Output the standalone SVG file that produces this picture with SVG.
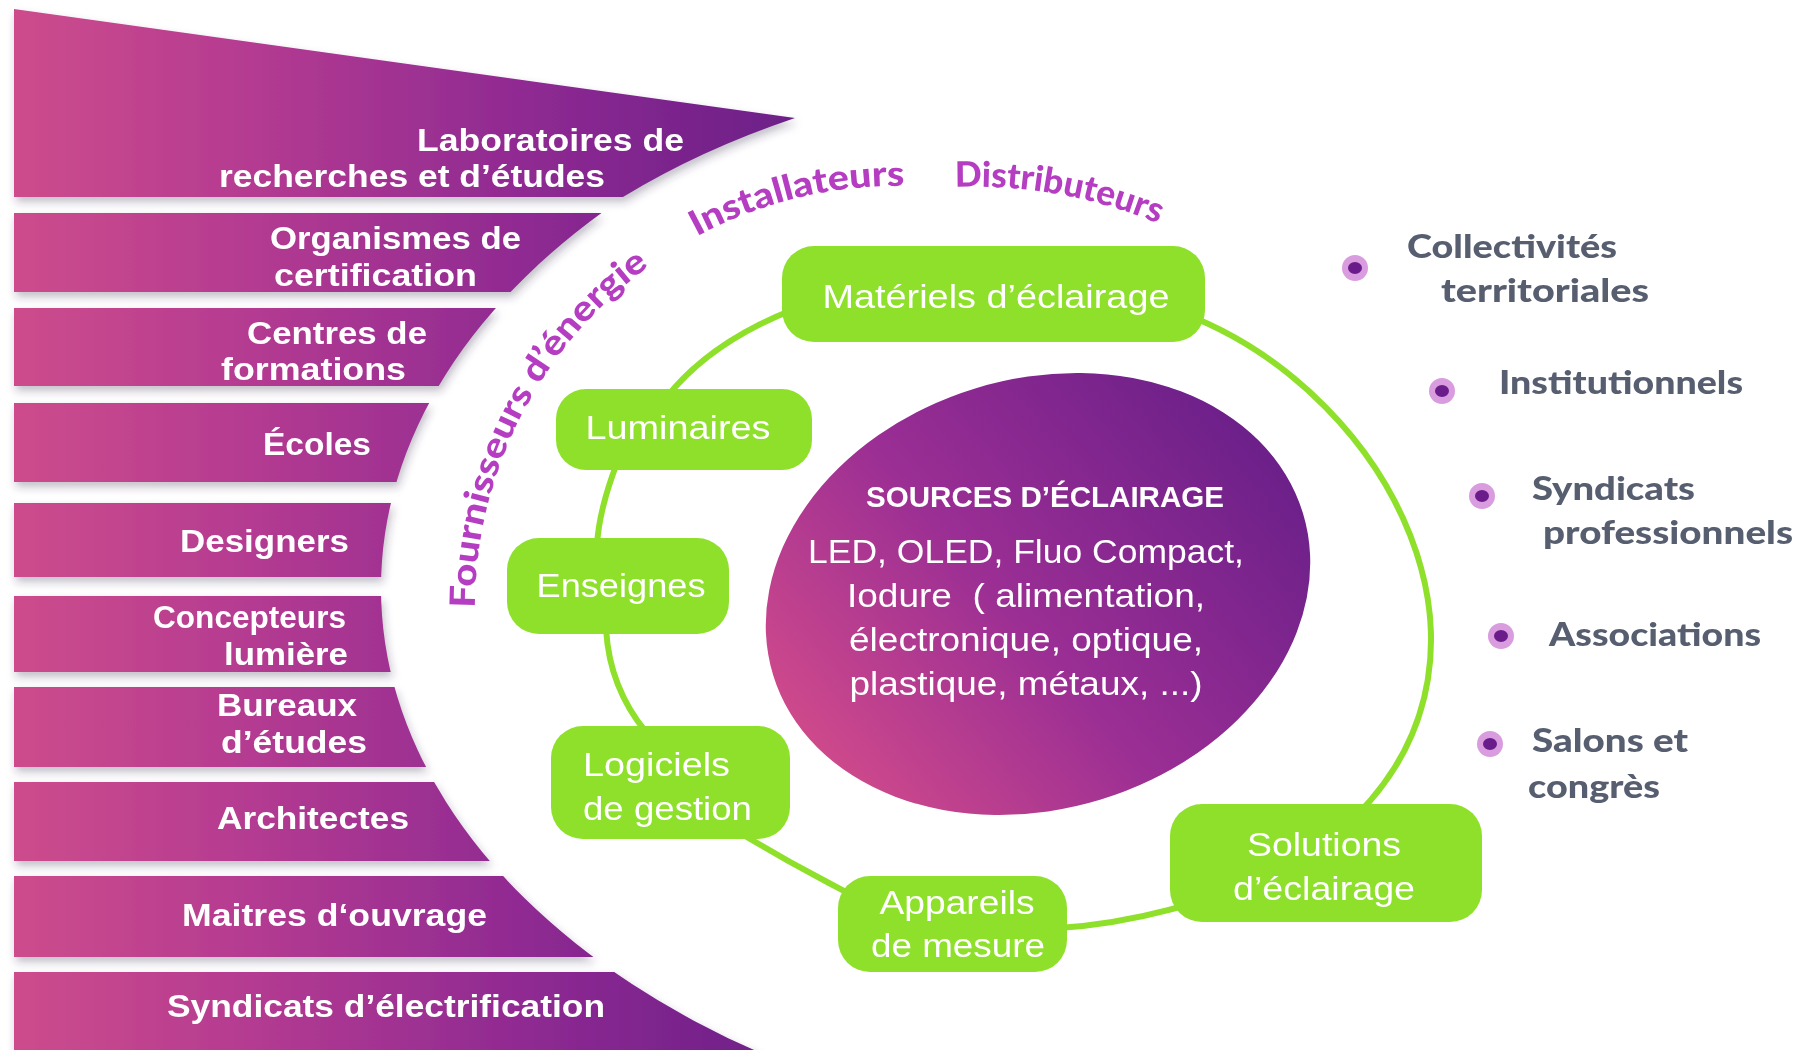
<svg xmlns="http://www.w3.org/2000/svg" width="1808" height="1050" viewBox="0 0 1808 1050">
<style>
.band{fill:url(#bandGrad)}
.bt{font-family:"Liberation Sans",Arial,sans-serif;font-weight:700;font-size:32px;fill:#fff;text-anchor:end}
.box{fill:#8FE02B}
.bx{font-family:"Liberation Sans",Arial,sans-serif;font-size:33px;fill:#fff}
.mid{text-anchor:middle}
.arct{font-family:Lato,"Noto Sans",sans-serif;font-weight:900;font-size:35px;fill:#B53DC1}
.link{fill:none;stroke:#8FE02B;stroke-width:6}
.rt{font-family:Lato,"Noto Sans",sans-serif;font-weight:900;font-size:33px;fill:#565E70}
.dot-o{fill:#D99CDF}
.dot-i{fill:#6A1C8B}
.srch{font-family:"Liberation Sans",Arial,sans-serif;font-weight:700;font-size:29px;fill:#fff;text-anchor:middle}
.srct{font-family:"Liberation Sans",Arial,sans-serif;font-size:33px;fill:#fff;text-anchor:middle}
</style>
<defs>
<linearGradient id="bandGrad" gradientUnits="userSpaceOnUse" x1="14" y1="0" x2="800" y2="0">
<stop offset="0" stop-color="#CD4C8C"/>
<stop offset="0.3" stop-color="#B43B91"/>
<stop offset="0.65" stop-color="#8F2A92"/>
<stop offset="1" stop-color="#6B1F88"/>
</linearGradient>
<linearGradient id="blobGrad" gradientUnits="userSpaceOnUse" x1="780" y1="700" x2="1300" y2="480">
<stop offset="0" stop-color="#D04A8B"/>
<stop offset="0.45" stop-color="#9A2E94"/>
<stop offset="1" stop-color="#6A1F89"/>
</linearGradient>
<filter id="shadow" x="-5%" y="-5%" width="115%" height="115%">
<feDropShadow dx="2" dy="5" stdDeviation="4" flood-color="#3a2a50" flood-opacity="0.3"/>
</filter>
<clipPath id="bowl"><path clip-rule="evenodd" d="M0,0H1808V1060H0Z M381,588A857,560 0 1 0 2095,588A857,560 0 1 0 381,588Z"/></clipPath>
<path id="arcPath" d="M476.6,644.8A422,422 0 0 1 1168.3,284.7"/>
<path id="arcDist" d="M955,187A481,481 0 0 1 1283,299.5"/>
</defs>
<rect width="1808" height="1050" fill="#fff"/>

<g id="bands" filter="url(#shadow)">
<path class="band" d="M14,9L795,118Q700,150 623,197L14,197Z"/>
<g clip-path="url(#bowl)">
<rect class="band" x="14" y="213" width="900" height="79"/>
<rect class="band" x="14" y="308" width="900" height="78"/>
<rect class="band" x="14" y="403" width="900" height="79"/>
<rect class="band" x="14" y="503" width="900" height="74"/>
<rect class="band" x="14" y="596" width="900" height="76"/>
<rect class="band" x="14" y="687" width="900" height="80"/>
<rect class="band" x="14" y="782" width="900" height="79"/>
<rect class="band" x="14" y="876" width="900" height="81"/>
<rect class="band" x="14" y="972" width="900" height="90"/>
</g>
</g>
<g id="band-labels">
<text class="bt" x="684" y="151" textLength="267" lengthAdjust="spacingAndGlyphs">Laboratoires de</text>
<text class="bt" x="605" y="187" textLength="386" lengthAdjust="spacingAndGlyphs">recherches et d’études</text>
<text class="bt" x="521" y="249" textLength="251" lengthAdjust="spacingAndGlyphs">Organismes de</text>
<text class="bt" x="477" y="286" textLength="203" lengthAdjust="spacingAndGlyphs">certification</text>
<text class="bt" x="427" y="344" textLength="180" lengthAdjust="spacingAndGlyphs">Centres de</text>
<text class="bt" x="406" y="380" textLength="185" lengthAdjust="spacingAndGlyphs">formations</text>
<text class="bt" x="371" y="455" textLength="108" lengthAdjust="spacingAndGlyphs">Écoles</text>
<text class="bt" x="349" y="552" textLength="169" lengthAdjust="spacingAndGlyphs">Designers</text>
<text class="bt" x="346" y="628" textLength="193" lengthAdjust="spacingAndGlyphs">Concepteurs</text>
<text class="bt" x="348" y="665" textLength="124" lengthAdjust="spacingAndGlyphs">lumière</text>
<text class="bt" x="357" y="716" textLength="140" lengthAdjust="spacingAndGlyphs">Bureaux</text>
<text class="bt" x="367" y="753" textLength="146" lengthAdjust="spacingAndGlyphs">d’études</text>
<text class="bt" x="409" y="829" textLength="192" lengthAdjust="spacingAndGlyphs">Architectes</text>
<text class="bt" x="487" y="926" textLength="305" lengthAdjust="spacingAndGlyphs">Maitres d‘ouvrage</text>
<text class="bt" x="605" y="1017" textLength="438" lengthAdjust="spacingAndGlyphs">Syndicats d’électrification</text>
</g>

<g id="arc-labels">
<text class="arct"><textPath href="#arcPath" startOffset="37" textLength="398" lengthAdjust="spacingAndGlyphs">Fournisseurs d’énergie</textPath></text>
<text class="arct"><textPath href="#arcPath" startOffset="491" textLength="216" lengthAdjust="spacingAndGlyphs">Installateurs</textPath></text>
<text class="arct"><textPath href="#arcDist" startOffset="0" textLength="208" lengthAdjust="spacingAndGlyphs">Distributeurs</textPath></text>
</g>

<g id="connectors">
<path class="link" d="M1195,318C1390,400 1520,650 1357,815"/>
<path class="link" d="M1190,904Q1122,924 1058,928"/>
<path class="link" d="M852,895Q797,867 745,836"/>
<path class="link" d="M646,732Q609,687 606,628"/>
<path class="link" d="M597,545Q599,510 617,463"/>
<path class="link" d="M666,398Q709,343 792,310"/>
</g>

<g id="sources">
<ellipse cx="1038" cy="594" rx="277" ry="215" transform="rotate(-17 1038 594)" fill="url(#blobGrad)"/>
<text class="srch" x="1045" y="507" textLength="358" lengthAdjust="spacingAndGlyphs">SOURCES D’ÉCLAIRAGE</text>
<text class="srct" x="1026" y="563" textLength="436" lengthAdjust="spacingAndGlyphs">LED, OLED, Fluo Compact,</text>
<text class="srct" x="1026" y="607" textLength="358" lengthAdjust="spacingAndGlyphs" xml:space="preserve">Iodure  ( alimentation,</text>
<text class="srct" x="1026" y="651" textLength="354" lengthAdjust="spacingAndGlyphs">électronique, optique,</text>
<text class="srct" x="1026" y="695" textLength="353" lengthAdjust="spacingAndGlyphs">plastique, métaux, ...)</text>
</g>

<g id="materiels">
<rect class="box" x="782" y="246" width="423" height="96" rx="32"/>
<text class="bx mid" x="996" y="308" textLength="347" lengthAdjust="spacingAndGlyphs">Matériels d’éclairage</text>
</g>
<g id="luminaires">
<rect class="box" x="556" y="389" width="256" height="81" rx="30"/>
<text class="bx mid" x="678" y="439" textLength="185" lengthAdjust="spacingAndGlyphs">Luminaires</text>
</g>
<g id="enseignes">
<rect class="box" x="507" y="538" width="222" height="96" rx="32"/>
<text class="bx mid" x="621" y="597" textLength="169" lengthAdjust="spacingAndGlyphs">Enseignes</text>
</g>
<g id="logiciels">
<rect class="box" x="551" y="726" width="239" height="113" rx="32"/>
<text class="bx" x="583" y="776" textLength="147" lengthAdjust="spacingAndGlyphs">Logiciels</text>
<text class="bx" x="583" y="820" textLength="169" lengthAdjust="spacingAndGlyphs">de gestion</text>
</g>
<g id="appareils">
<rect class="box" x="838" y="876" width="229" height="96" rx="32"/>
<text class="bx mid" x="957" y="914" textLength="155" lengthAdjust="spacingAndGlyphs">Appareils</text>
<text class="bx mid" x="958" y="957" textLength="174" lengthAdjust="spacingAndGlyphs">de mesure</text>
</g>
<g id="solutions">
<rect class="box" x="1170" y="804" width="312" height="118" rx="32"/>
<text class="bx mid" x="1324" y="856" textLength="154" lengthAdjust="spacingAndGlyphs">Solutions</text>
<text class="bx mid" x="1324" y="900" textLength="182" lengthAdjust="spacingAndGlyphs">d’éclairage</text>
</g>

<g id="collectivites">
<circle class="dot-o" cx="1355" cy="268" r="13"/><ellipse class="dot-i" cx="1355" cy="268" rx="7" ry="6"/>
<text class="rt" x="1407" y="258" textLength="210" lengthAdjust="spacingAndGlyphs">Collectivités</text>
<text class="rt" x="1441" y="302" textLength="208" lengthAdjust="spacingAndGlyphs">territoriales</text>
</g>
<g id="institutionnels">
<circle class="dot-o" cx="1442" cy="391" r="13"/><ellipse class="dot-i" cx="1442" cy="391" rx="7" ry="6"/>
<text class="rt" x="1499" y="394" textLength="244" lengthAdjust="spacingAndGlyphs">Institutionnels</text>
</g>
<g id="syndicats-pro">
<circle class="dot-o" cx="1482" cy="496" r="13"/><ellipse class="dot-i" cx="1482" cy="496" rx="7" ry="6"/>
<text class="rt" x="1532" y="500" textLength="163" lengthAdjust="spacingAndGlyphs">Syndicats</text>
<text class="rt" x="1543" y="544" textLength="250" lengthAdjust="spacingAndGlyphs">professionnels</text>
</g>
<g id="associations">
<circle class="dot-o" cx="1501" cy="636" r="13"/><ellipse class="dot-i" cx="1501" cy="636" rx="7" ry="6"/>
<text class="rt" x="1549" y="646" textLength="212" lengthAdjust="spacingAndGlyphs">Associations</text>
</g>
<g id="salons">
<circle class="dot-o" cx="1490" cy="744" r="13"/><ellipse class="dot-i" cx="1490" cy="744" rx="7" ry="6"/>
<text class="rt" x="1532" y="752" textLength="156" lengthAdjust="spacingAndGlyphs">Salons et</text>
<text class="rt" x="1528" y="798" textLength="132" lengthAdjust="spacingAndGlyphs">congrès</text>
</g>
</svg>
